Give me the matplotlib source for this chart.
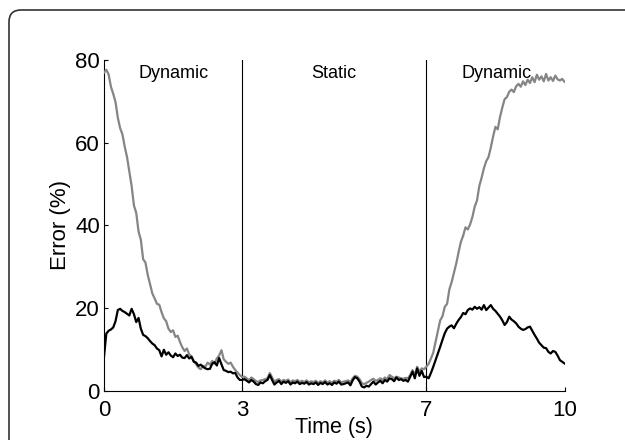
import numpy as np
import matplotlib
matplotlib.use("Agg")
import matplotlib.pyplot as plt
from matplotlib.patches import FancyBboxPatch
from matplotlib.transforms import IdentityTransform

plt.rcParams['font.family'] = ['Liberation Sans', 'DejaVu Sans']

# time grid, 0.05 s steps
time = np.linspace(0, 10, 201)

# grey curve, by phase
grey_dyn1 = [76.9, 77.6, 76.5, 73.5, 71.8, 69.8, 66.0, 63.5, 62.0, 59.0,
             56.5, 53.0, 49.5, 44.8, 43.0, 38.5, 36.5, 31.8, 31.0, 28.0,
             25.8, 23.5, 22.3, 21.0, 20.8, 19.0, 17.5, 16.8, 15.0, 14.2,
             14.6, 13.0, 13.3, 11.8, 10.5, 9.6, 10.2, 8.8, 8.3, 7.2,
             6.4, 5.6, 5.2, 6.0, 5.8, 6.8, 6.3, 7.2, 6.6, 7.8,
             8.5, 9.8, 7.6, 7.0, 6.5, 6.8, 5.8, 5.0, 4.4, 3.8, 3.3]
grey_static = [3.4, 3.0, 2.5, 3.2, 2.8, 2.3, 2.1, 2.5, 2.6, 2.8,
               3.0, 4.3, 3.2, 2.2, 2.6, 2.8, 2.2, 2.6, 2.4, 2.7,
               2.0, 2.5, 2.3, 2.6, 2.1, 2.4, 2.1, 2.5, 2.0, 2.3,
               2.1, 2.4, 1.9, 2.3, 2.0, 2.5, 2.0, 2.3, 1.9, 2.4,
               2.2, 2.6, 2.0, 2.2, 2.3, 2.5, 2.0, 3.0, 3.6, 3.4,
               2.8, 1.8, 1.6, 1.9, 2.2, 2.6, 2.9, 2.4, 2.6, 3.0,
               2.6, 3.2, 2.8, 3.8, 3.4, 3.0, 3.4, 3.2, 3.0, 2.9,
               3.1, 3.0, 3.8, 5.0, 3.8, 5.8, 4.6, 5.4, 5.2, 5.8]
grey_dyn2 = [6.5, 7.8, 9.2, 11.8, 14.5, 17.0, 18.0, 20.3, 21.0, 24.5,
             26.3, 28.5, 30.8, 33.5, 36.0, 37.5, 39.5, 39.0, 40.2, 42.0,
             44.5, 46.0, 49.5, 51.5, 53.8, 55.5, 56.5, 58.8, 61.5, 63.8,
             63.2, 66.2, 68.5, 70.5, 71.0, 72.3, 72.8, 72.2, 73.6, 74.2,
             73.5, 74.8, 73.9, 75.2, 74.4, 75.8, 74.6, 76.4, 75.2, 76.0,
             74.8, 76.6, 75.0, 75.8, 74.9, 76.2, 75.3, 75.0, 75.4, 74.7]

# black curve, by phase
black_dyn1 = [8.2, 13.8, 14.5, 14.8, 15.3, 16.8, 19.5, 19.8, 19.3, 19.0,
              18.6, 18.2, 19.8, 18.5, 16.6, 17.6, 15.0, 13.5, 13.2, 12.7,
              12.0, 11.4, 11.0, 10.2, 9.8, 8.3, 9.9, 8.7, 9.3, 8.5,
              8.1, 9.0, 8.4, 8.7, 8.0, 7.9, 8.6, 7.8, 8.2, 7.0,
              6.8, 6.0, 6.3, 5.8, 5.4, 5.2, 5.3, 6.5, 6.9, 6.1,
              7.9, 6.4, 5.0, 4.8, 4.5, 4.6, 4.2, 4.3, 3.2, 2.6, 2.6]
black_static = [2.8, 2.4, 2.0, 2.6, 2.2, 1.6, 1.4, 2.0, 1.8, 2.3,
                2.6, 3.8, 2.6, 1.5, 2.0, 2.4, 1.6, 2.2, 1.9, 2.3,
                1.5, 2.0, 1.8, 2.2, 1.6, 1.9, 1.7, 2.1, 1.5, 1.8,
                1.6, 2.0, 1.4, 1.9, 1.6, 2.1, 1.5, 1.8, 1.4, 2.0,
                1.7, 2.2, 1.5, 1.6, 1.8, 2.0, 1.3, 2.5, 3.3, 3.0,
                2.2, 1.0, 0.8, 1.2, 1.0, 1.6, 2.2, 1.5, 2.0, 2.4,
                1.8, 2.6, 2.2, 3.0, 2.8, 2.3, 3.2, 2.6, 2.8, 2.4,
                2.6, 2.2, 3.4, 4.6, 3.0, 5.4, 3.6, 4.8, 3.3, 3.4]
black_dyn2 = [3.0, 4.3, 5.8, 7.4, 9.0, 10.6, 12.3, 13.9, 15.0, 15.5,
              15.8, 15.1, 16.2, 17.1, 17.8, 18.8, 18.5, 19.5, 19.9, 19.6,
              20.3, 19.8, 20.2, 19.6, 20.7, 19.5, 20.1, 20.7, 19.8, 19.3,
              18.6, 17.9, 17.0, 15.9, 16.6, 17.9, 17.2, 16.8, 16.3, 15.5,
              15.0, 14.7, 14.9, 15.3, 15.5, 14.5, 13.5, 12.6, 11.6, 11.0,
              10.4, 10.3, 9.4, 9.0, 9.6, 9.4, 8.5, 7.4, 7.0, 6.6]

grey = np.array(grey_dyn1 + grey_static + grey_dyn2)
black = np.array(black_dyn1 + black_static + black_dyn2)

phase_edges = [3, 7]
phase_labels = ['Dynamic', 'Static', 'Dynamic']
phase_label_x = [1.52, 5.0, 8.53]

fig = plt.figure(figsize=(6.25, 4.4), dpi=100)
ax = fig.add_axes([0.1664, 0.112, 0.7368, 0.752])

# rounded panel frame, runs off the right and bottom edge
frame = FancyBboxPatch((9, -30), 700, 460,
                       boxstyle="round,pad=0,rounding_size=12",
                       transform=IdentityTransform(), fill=False,
                       edgecolor='#333333', linewidth=1.2)
fig.add_artist(frame)

ax.plot(time, grey, color='#858585', lw=1.6, zorder=3)
ax.plot(time, black, color='black', lw=1.6, zorder=4)

for xe in phase_edges:
    ax.axvline(xe, ymin=0, ymax=1, color='black', lw=0.8, zorder=2)

for lab, xl in zip(phase_labels, phase_label_x):
    ax.text(xl, 76.6, lab, ha='center', va='center', fontsize=13)

ax.set_xlim(0, 10)
ax.set_ylim(0, 80)
ax.set_xticks([0, 3, 7, 10])
ax.set_yticks([0, 20, 40, 60, 80])
ax.tick_params(direction='in', length=3, width=0.8, labelsize=16, pad=3)
ax.tick_params(axis='x', pad=7)
for s in ['top', 'right']:
    ax.spines[s].set_visible(False)
for s in ['left', 'bottom']:
    ax.spines[s].set_linewidth(0.8)

ax.set_xlabel('Time (s)', fontsize=15.5, labelpad=-3)
ax.set_ylabel('Error (%)', fontsize=16, labelpad=3)

fig.savefig('out.png', dpi=100)
